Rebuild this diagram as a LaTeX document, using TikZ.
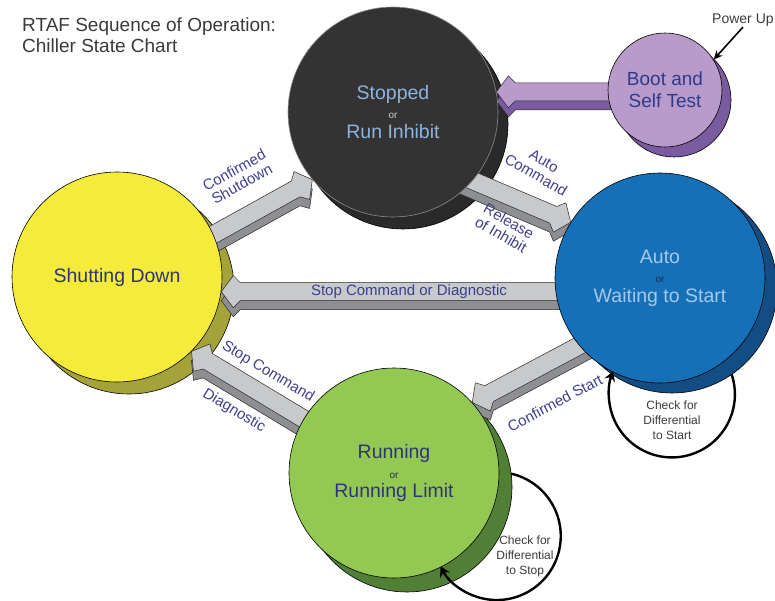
\documentclass[tikz,border=0pt]{standalone}
\usepackage{fontspec}
\setmainfont{Liberation Sans}
\usepackage{xcolor}
\usetikzlibrary{arrows.meta,calc}
\definecolor{ink}      {HTML}{3A3A3A}
\definecolor{navy}     {HTML}{30337A}
\definecolor{tagc}     {HTML}{3E3F8E}
\definecolor{stopfill} {HTML}{333333}
\definecolor{stopshade}{HTML}{2A2A2A}
\definecolor{stopedge} {HTML}{8C8C8C}
\definecolor{stoptext} {HTML}{8DB4DC}
\definecolor{orlight}  {HTML}{CFCFCF}
\definecolor{ordark}   {HTML}{1C2D4F}
\definecolor{shutfill} {HTML}{F4EB3B}
\definecolor{shutshade}{HTML}{A5A23A}
\definecolor{autofill} {HTML}{1570B8}
\definecolor{autoshade}{HTML}{124E84}
\definecolor{autotext} {HTML}{A3C8EC}
\definecolor{runfill}  {HTML}{93C853}
\definecolor{runshade} {HTML}{527F36}
\definecolor{bootfill} {HTML}{B89BCA}
\definecolor{bootshade}{HTML}{7B5B9F}
\definecolor{bootnavy} {HTML}{2E3A8C}
\definecolor{slabface} {HTML}{C8C9CB}
\definecolor{slabside} {HTML}{8E8F93}
\pgfdeclarelayer{shade}
\pgfdeclarelayer{slabs}
\pgfsetlayers{shade,slabs,main}
\newcommand\orfont{\fontsize{10}{10}\selectfont}
\newcommand\slabshape[1]{(0,0) -- (-12,16) -- (-19,9) -- (-#1,9) -- (-#1,-9) -- (-19,-9) -- (-12,-16) -- cycle}
% tip, angle, length, face, side
\newcommand\slab[5]{%
  \begin{scope}[shift={#1}]
    \begin{scope}[shift={(0,-9)}, rotate=#2]
      \filldraw[fill=#5, slabedge] \slabshape{#3};
    \end{scope}
    \begin{scope}[rotate=#2]
      \filldraw[fill=#4, slabedge] \slabshape{#3};
    \end{scope}
  \end{scope}}
\tikzset{
  title/.style    = {font=\fontsize{19}{21}\selectfont, text=ink, inner sep=0pt},
  state/.style    = {circle, draw=black, line width=0.6pt, minimum size=210pt,
                     inner sep=0pt, align=center, font=\fontsize{19.5}{19.5}\selectfont},
  shadowline/.style = {draw=black, line width=0.6pt},
  slabedge/.style = {draw=black!85, line width=0.5pt, line join=round},
  tag/.style      = {font=\fontsize{15}{16}\selectfont, text=tagc, align=center, inner sep=0pt},
  note/.style     = {font=\fontsize{12}{15}\selectfont, text=ink, align=center, inner sep=0pt},
  loopline/.style = {line width=2.4pt, -{Stealth[length=10pt, width=11pt]}},
  pointer/.style  = {line width=1.6pt, -{Stealth[length=9pt, width=8pt]}},
}
\begin{document}
\begin{tikzpicture}[x=1pt, y=1pt]
  \useasboundingbox (0,0) rectangle (775,-601);

  % title
  \node[title, anchor=base west] (title1) at (22,-32) {RTAF Sequence of Operation:};
  \node[title, anchor=base west] (title2) at (22,-53) {Chiller State Chart};

  % states
  \node[state, fill=stopfill, draw=stopedge, text=stoptext] (stop) at (393,-112)
    {Stopped\\{\orfont\color{orlight}or}\\Run Inhibit};
  \node[state, fill=shutfill, text=navy] (shut) at (117,-277) {Shutting Down};
  \node[state, fill=autofill, text=autotext] (auto) at (660,-278)
    {Auto\\{\orfont\color{ordark}or}\\Waiting to Start};
  \node[state, fill=runfill, text=navy] (run) at (394,-473)
    {Running\\{\orfont\color{ordark}or}\\Running Limit};
  \node[state, minimum size=114pt, fill=bootfill, text=bootnavy,
        font=\fontsize{19}{22}\selectfont] (boot) at (665,-90) {Boot and\\Self Test};

  % shadows
  \begin{pgfonlayer}{shade}
    \filldraw[fill=stopshade, shadowline] ($(stop)+(10,-12)$) circle[radius=105];
    \filldraw[fill=shutshade, shadowline] ($(shut)+(12,-12)$) circle[radius=105];
    \filldraw[fill=autoshade, shadowline] ($(auto)+(12,-10)$) circle[radius=105];
    \filldraw[fill=runshade, shadowline] ($(run)+(13,-14)$) circle[radius=105];
    \filldraw[fill=bootshade, shadowline] ($(boot)+(9,-10)$) circle[radius=57];
  \end{pgfonlayer}

  % transitions
  \begin{pgfonlayer}{slabs}
    \slab{(stop.11)}{180}{165}{bootfill}{bootshade}
    \slab{(stop.220)}{29}{145}{slabface}{slabside}
    \slab{(auto.148)}{-23}{135}{slabface}{slabside}
    \slab{(shut.-8)}{180}{390}{slabface}{slabside}
    \slab{(run.42)}{208}{150}{slabface}{slabside}
    \slab{(shut.-45)}{149}{160}{slabface}{slabside}
  \end{pgfonlayer}

  \node[tag, rotate=29] (lshut) at (238,-177) {Confirmed\\Shutdown};
  \node[tag, rotate=-30] (lauto) at (540,-168) {Auto\\Command};
  \node[tag, rotate=-30] (lrel) at (505,-228) {Release\\of Inhibit};
  \node[tag] (lstop) at (409,-292) {Stop Command or Diagnostic};
  \node[tag, rotate=-31] (lcmd) at (268,-372) {Stop Command};
  \node[tag, rotate=-31] (ldiag) at (234,-411) {Diagnostic};
  \node[tag, rotate=28] (lstart) at (555,-403) {Confirmed Start};

  % self loops
  \begin{pgfonlayer}{slabs}
    \draw[loopline] ($(auto)+(12,-10)+(-55.4:105)$) arc[start angle=18.5, end angle=-201.8, radius=63];
    \draw[loopline] ($(run)+(13,-14)+(7.3:105)$) arc[start angle=77, end angle=-151.8, radius=64];
  \end{pgfonlayer}
  \node[note] (nstart) at (672,-420) {Check for\\Differential\\to Start};
  \node[note] (nstop) at (525,-556) {Check for\\Differential\\to Stop};

  % power up
  \node[note, font=\fontsize{14}{16}\selectfont, anchor=base west] (pwr) at (712,-24) {Power Up};
  \draw[pointer] (pwr.south) -- (boot.32);
\end{tikzpicture}
\end{document}
